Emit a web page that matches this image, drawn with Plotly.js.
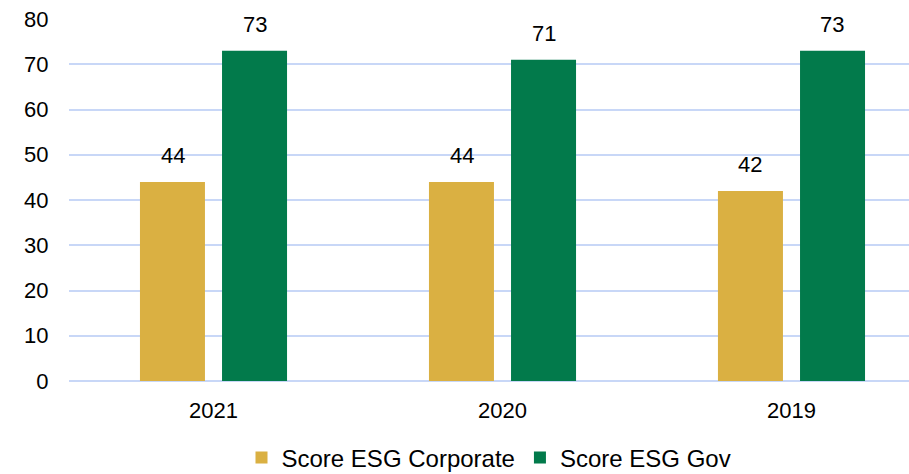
<!DOCTYPE html>
<html>
<head>
<meta charset="utf-8">
<script src="https://cdn.plot.ly/plotly-3.0.1.min.js"></script>
<style>
  html, body { margin: 0; padding: 0; background: #ffffff; }
  #chart { width: 909px; height: 474px; }
</style>
</head>
<body>
<div id="chart"></div>
<script>
const years = ["2021", "2020", "2019"];
const corporateScores = [44, 44, 42];
const govScores = [73, 71, 73];
const seriesNames = ["Score ESG Corporate", "Score ESG Gov"];

const FONT = "Liberation Sans, Arial, sans-serif";
const gold = "#DAB042";
const green = "#027A4B";

const traces = [
  { type: "bar", name: seriesNames[0], x: years, y: corporateScores, marker: { color: gold }, hoverinfo: "none" },
  { type: "bar", name: seriesNames[1], x: years, y: govScores, marker: { color: green }, hoverinfo: "none" }
];

const annotations = [];
[corporateScores, govScores].forEach((vals, s) => {
  vals.forEach((v, i) => {
    annotations.push({
      x: i, y: v, xref: "x", yref: "y",
      text: String(v), showarrow: false,
      xshift: s === 0 ? -41 : 41, yshift: 12,
      yanchor: "bottom", xanchor: "center",
      font: { family: FONT, size: 22, color: "#000000" }
    });
  });
});

const layout = {
  width: 909, height: 474,
  margin: { l: 69, r: 0, t: 19, b: 93 },
  paper_bgcolor: "#ffffff", plot_bgcolor: "#ffffff",
  font: { family: FONT, size: 22, color: "#000000" },
  barmode: "group", bargap: 0.432, bargroupgap: 0.208,
  showlegend: true,
  legend: {
    orientation: "h", x: 0.5, xanchor: "center",
    yref: "container", y: 0.034, yanchor: "middle",
    font: { family: FONT, size: 24, color: "#000000" },
    itemwidth: 30, tracegroupgap: 0
  },
  xaxis: {
    type: "category", range: [-0.5, 2.4066], automargin: false,
    showgrid: false, zeroline: false, showline: false,
    ticks: "outside", ticklen: 10, tickcolor: "rgba(0,0,0,0)",
    tickfont: { family: FONT, size: 22, color: "#000000" }
  },
  yaxis: {
    range: [0, 80], dtick: 10, tick0: 0, automargin: false,
    showgrid: true, gridcolor: "#C8D7F7", gridwidth: 2,
    zeroline: true, zerolinecolor: "#C8D7F7", zerolinewidth: 2,
    showline: false, ticks: "outside", ticklen: 15, tickcolor: "rgba(0,0,0,0)",
    tickfont: { family: FONT, size: 22, color: "#000000" }
  },
  annotations: annotations
};

Plotly.newPlot("chart", traces, layout, { displayModeBar: false, staticPlot: true });
</script>
</body>
</html>
